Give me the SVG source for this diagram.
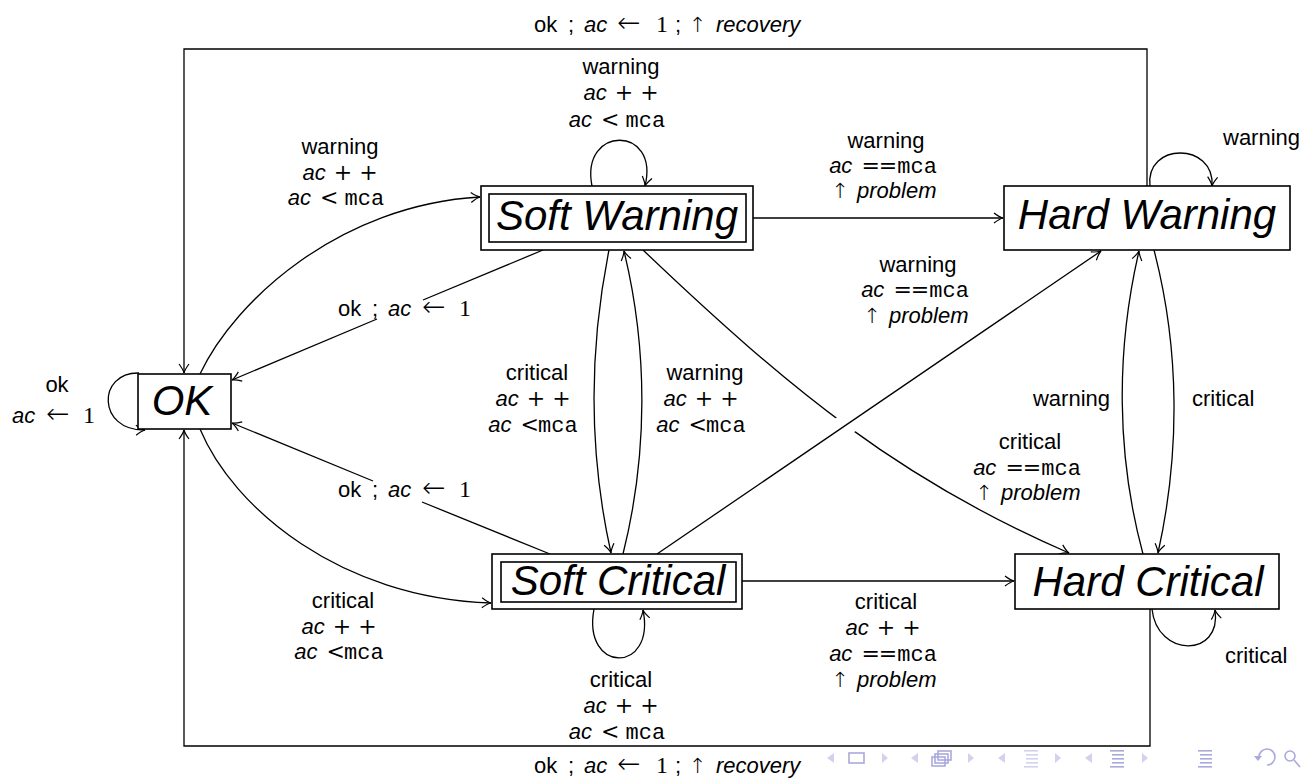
<svg xmlns="http://www.w3.org/2000/svg" width="1306" height="779" viewBox="0 0 1306 779">
<style>
.t{font-family:"Liberation Sans",Arial,sans-serif;font-size:22px;fill:#000}
.i{font-style:italic}
.m{font-family:"Liberation Mono","Courier New",monospace;font-size:22px}
.o{font-family:"DejaVu Serif","Liberation Serif",serif;font-size:22px}
.a{font-family:"Liberation Serif","DejaVu Serif",serif;font-size:24px}
.ar{font-family:"DejaVu Sans",sans-serif;font-size:28px;font-weight:200}
.up{font-family:"DejaVu Sans",sans-serif;font-size:21px;font-weight:200}
.n{font-family:"Liberation Sans",Arial,sans-serif;font-size:42px;font-style:italic;fill:#000}
.box{fill:#fff;stroke:#000;stroke-width:1.6}
.e{fill:none;stroke:#000;stroke-width:1.3}
.ea{fill:none;stroke:#000;stroke-width:1.3;marker-end:url(#arr)}
.nav{fill:#a9a9dc;stroke:none}
.navl{fill:#d2d2ef;stroke:none}
.navs{fill:none;stroke:#a9a9dc;stroke-width:1.6}
</style>
<defs>
<marker id="arr" viewBox="-10 -6 12 12" refX="0" refY="0" markerWidth="12" markerHeight="12" markerUnits="userSpaceOnUse" orient="auto" overflow="visible">
<path d="M -9 -5 C -5 -2, -2 -0.5, 0 0 C -2 0.5, -5 2, -9 5" fill="none" stroke="#000" stroke-width="1.2"/>
</marker>
</defs>
<rect width="1306" height="779" fill="#fff"/>

<g id="connectors">
<!-- Hard Warning -> OK (recovery, top) -->
<path class="ea" d="M 1147 186 V 49 H 184 V 373"/>
<!-- Hard Critical -> OK (recovery, bottom) -->
<path class="ea" d="M 1150 609 V 746 H 184 V 430"/>
<!-- OK -> Soft Warning -->
<path class="ea" d="M 200 374 C 235 300, 340 205, 480 197"/>
<!-- OK -> Soft Critical -->
<path class="ea" d="M 200 429 C 233 508, 340 598, 491 603"/>
<!-- Soft Warning -> OK -->
<path class="e" d="M 543 250 L 423 300"/>
<path class="ea" d="M 377 319 L 232 380"/>
<!-- Soft Critical -> OK -->
<path class="e" d="M 550 554 L 422 502"/>
<path class="ea" d="M 373 481 L 232 423"/>
<!-- OK self loop -->
<path class="ea" d="M 139 373 C 97 372, 97 431, 145 430"/>
<!-- Soft Warning self loop -->
<path class="ea" d="M 592 186 C 580 125, 660 125, 645 186"/>
<!-- Soft Critical self loop -->
<path class="ea" d="M 594 609 C 582 674, 656 674, 643 610"/>
<!-- Hard Warning self loop -->
<path class="ea" d="M 1150 186 C 1145 142, 1215 142, 1212 186"/>
<!-- Hard Critical self loop -->
<path class="ea" d="M 1152 609 C 1157 658, 1222 658, 1215 610"/>
<!-- Soft Warning -> Hard Warning -->
<path class="ea" d="M 753 218 L 1003 218"/>
<!-- Soft Critical -> Hard Critical -->
<path class="ea" d="M 742 581 L 1014 581"/>
<!-- Soft Warning -> Soft Critical -->
<path class="ea" d="M 609 250 C 589 350, 589 454, 611 553"/>
<!-- Soft Critical -> Soft Warning -->
<path class="ea" d="M 623 554 C 648 454, 648 350, 624 251"/>
<!-- Soft Warning -> Hard Critical -->
<path class="ea" d="M 643 250 C 790 390, 900 480, 1069 553"/>
<!-- crossing gap -->
<path d="M 828 437 L 858 416" stroke="#fff" stroke-width="22" fill="none"/>
<!-- Soft Critical -> Hard Warning -->
<path class="ea" d="M 657 554 L 1101 251"/>
<!-- Hard Critical -> Hard Warning -->
<path class="ea" d="M 1143 554 C 1116 454, 1116 350, 1139 251"/>
<!-- Hard Warning -> Hard Critical -->
<path class="ea" d="M 1154 250 C 1180 350, 1180 454, 1158 553"/>
</g>

<g id="node-ok">
<rect class="box" x="138" y="374" width="93" height="55"/>
<text class="n" x="182" y="415" text-anchor="middle">OK</text>
</g>
<g id="node-soft-warning">
<rect class="box" x="481" y="186" width="272" height="64"/>
<rect class="box" x="489" y="194" width="257" height="48"/>
<text class="n" x="617" y="230" text-anchor="middle">Soft Warning</text>
</g>
<g id="node-hard-warning">
<rect class="box" x="1004" y="186" width="286" height="64"/>
<text class="n" x="1147" y="229" text-anchor="middle">Hard Warning</text>
</g>
<g id="node-soft-critical">
<rect class="box" x="492" y="554" width="250" height="55"/>
<rect class="box" x="501" y="562" width="235" height="40"/>
<text class="n" x="618" y="595" text-anchor="middle">Soft Critical</text>
</g>
<g id="node-hard-critical">
<rect class="box" x="1015" y="554" width="264" height="55"/>
<text class="n" x="1148" y="596" text-anchor="middle">Hard Critical</text>
</g>

<g id="edge-labels">
<!-- top recovery -->
<text class="t" y="32"><tspan x="534">ok</tspan><tspan x="568">;</tspan><tspan x="584" class="i">ac</tspan><tspan x="617" class="ar">←</tspan><tspan x="656" class="a">1</tspan><tspan x="675">;</tspan><tspan x="689" class="up">↑</tspan><tspan x="716" class="i">recovery</tspan></text>
<!-- bottom recovery -->
<text class="t" y="773"><tspan x="534">ok</tspan><tspan x="568">;</tspan><tspan x="584" class="i">ac</tspan><tspan x="617" class="ar">←</tspan><tspan x="656" class="a">1</tspan><tspan x="675">;</tspan><tspan x="689" class="up">↑</tspan><tspan x="716" class="i">recovery</tspan></text>

<!-- Soft Warning loop -->
<text class="t" x="621" y="74" text-anchor="middle">warning</text>
<text class="t" x="621" y="100" text-anchor="middle"><tspan class="i">ac</tspan><tspan class="o" dx="8">+</tspan><tspan class="o" dx="7">+</tspan></text>
<text class="t" x="617" y="127" text-anchor="middle"><tspan class="i">ac</tspan><tspan class="o" dx="9">&lt;</tspan><tspan class="m" dx="6">mca</tspan></text>

<!-- OK -> Soft Warning -->
<text class="t" x="340" y="154" text-anchor="middle">warning</text>
<text class="t" x="340" y="180" text-anchor="middle"><tspan class="i">ac</tspan><tspan class="o" dx="8">+</tspan><tspan class="o" dx="7">+</tspan></text>
<text class="t" x="336" y="205" text-anchor="middle"><tspan class="i">ac</tspan><tspan class="o" dx="9">&lt;</tspan><tspan class="m" dx="6">mca</tspan></text>

<!-- Soft Warning -> Hard Warning -->
<text class="t" x="886" y="148" text-anchor="middle">warning</text>
<text class="t" x="883" y="173" text-anchor="middle"><tspan class="i">ac</tspan><tspan class="o" dx="9">=</tspan><tspan class="o" dx="-1">=</tspan><tspan class="m">mca</tspan></text>
<text class="t" x="884" y="198" text-anchor="middle"><tspan class="up">↑</tspan><tspan class="i" dx="8">problem</tspan></text>

<!-- Hard Warning loop -->
<text class="t" x="1223" y="145">warning</text>

<!-- Soft Critical -> Hard Warning -->
<text class="t" x="918" y="272" text-anchor="middle">warning</text>
<text class="t" x="915" y="297" text-anchor="middle"><tspan class="i">ac</tspan><tspan class="o" dx="9">=</tspan><tspan class="o" dx="-1">=</tspan><tspan class="m">mca</tspan></text>
<text class="t" x="916" y="323" text-anchor="middle"><tspan class="up">↑</tspan><tspan class="i" dx="8">problem</tspan></text>

<!-- Soft Warning -> OK -->
<text class="t" y="316"><tspan x="338">ok</tspan><tspan x="372">;</tspan><tspan x="388" class="i">ac</tspan><tspan x="422" class="ar">←</tspan><tspan x="459" class="a">1</tspan></text>

<!-- OK loop -->
<text class="t" x="57" y="392" text-anchor="middle">ok</text>
<text class="t" y="423"><tspan x="12" class="i">ac</tspan><tspan x="46" class="ar">←</tspan><tspan x="83" class="a">1</tspan></text>

<!-- Soft Warning -> Soft Critical -->
<text class="t" x="537" y="380" text-anchor="middle">critical</text>
<text class="t" x="533" y="406" text-anchor="middle"><tspan class="i">ac</tspan><tspan class="o" dx="8">+</tspan><tspan class="o" dx="7">+</tspan></text>
<text class="t" x="533" y="432" text-anchor="middle"><tspan class="i">ac</tspan><tspan class="o" dx="9">&lt;</tspan><tspan class="m" dx="-1">mca</tspan></text>

<!-- Soft Critical -> Soft Warning -->
<text class="t" x="705" y="380" text-anchor="middle">warning</text>
<text class="t" x="701" y="406" text-anchor="middle"><tspan class="i">ac</tspan><tspan class="o" dx="8">+</tspan><tspan class="o" dx="7">+</tspan></text>
<text class="t" x="701" y="432" text-anchor="middle"><tspan class="i">ac</tspan><tspan class="o" dx="9">&lt;</tspan><tspan class="m" dx="-1">mca</tspan></text>

<!-- Hard Critical -> Hard Warning -->
<text class="t" x="1110" y="406" text-anchor="end">warning</text>
<!-- Hard Warning -> Hard Critical -->
<text class="t" x="1192" y="406">critical</text>

<!-- Soft Warning -> Hard Critical -->
<text class="t" x="1030" y="449" text-anchor="middle">critical</text>
<text class="t" x="1027" y="475" text-anchor="middle"><tspan class="i">ac</tspan><tspan class="o" dx="9">=</tspan><tspan class="o" dx="-1">=</tspan><tspan class="m">mca</tspan></text>
<text class="t" x="1028" y="500" text-anchor="middle"><tspan class="up">↑</tspan><tspan class="i" dx="8">problem</tspan></text>

<!-- Soft Critical -> OK -->
<text class="t" y="497"><tspan x="338">ok</tspan><tspan x="372">;</tspan><tspan x="388" class="i">ac</tspan><tspan x="422" class="ar">←</tspan><tspan x="459" class="a">1</tspan></text>

<!-- OK -> Soft Critical -->
<text class="t" x="343" y="608" text-anchor="middle">critical</text>
<text class="t" x="339" y="634" text-anchor="middle"><tspan class="i">ac</tspan><tspan class="o" dx="8">+</tspan><tspan class="o" dx="7">+</tspan></text>
<text class="t" x="339" y="659" text-anchor="middle"><tspan class="i">ac</tspan><tspan class="o" dx="9">&lt;</tspan><tspan class="m" dx="-1">mca</tspan></text>

<!-- Soft Critical -> Hard Critical -->
<text class="t" x="886" y="609" text-anchor="middle">critical</text>
<text class="t" x="883" y="635" text-anchor="middle"><tspan class="i">ac</tspan><tspan class="o" dx="8">+</tspan><tspan class="o" dx="7">+</tspan></text>
<text class="t" x="883" y="661" text-anchor="middle"><tspan class="i">ac</tspan><tspan class="o" dx="9">=</tspan><tspan class="o" dx="-1">=</tspan><tspan class="m">mca</tspan></text>
<text class="t" x="884" y="687" text-anchor="middle"><tspan class="up">↑</tspan><tspan class="i" dx="8">problem</tspan></text>

<!-- Soft Critical loop -->
<text class="t" x="621" y="687" text-anchor="middle">critical</text>
<text class="t" x="621" y="713" text-anchor="middle"><tspan class="i">ac</tspan><tspan class="o" dx="8">+</tspan><tspan class="o" dx="7">+</tspan></text>
<text class="t" x="617" y="739" text-anchor="middle"><tspan class="i">ac</tspan><tspan class="o" dx="9">&lt;</tspan><tspan class="m" dx="6">mca</tspan></text>

<!-- Hard Critical loop -->
<text class="t" x="1225" y="663">critical</text>
</g>

<g id="navigation">
<path class="navl" d="M 834 753 L 827 758 L 834 763 Z"/>
<rect class="navs" x="849" y="753" width="15" height="10"/>
<path class="navl" d="M 882 753 L 888 758 L 882 763 Z"/>
<path class="navl" d="M 918 753 L 911 758 L 918 763 Z"/>
<rect class="navs" x="938" y="751" width="13" height="9"/>
<rect class="navs" x="935" y="754" width="13" height="9" fill="#fff"/>
<rect class="navs" x="932" y="757" width="13" height="9" fill="#fff"/>
<path class="navl" d="M 968 753 L 974 758 L 968 763 Z"/>
<path class="navl" d="M 1005 753 L 998 758 L 1005 763 Z"/>
<g class="navl"><rect x="1024" y="750" width="14" height="1.6"/><rect x="1026" y="754" width="12" height="1.6"/><rect x="1026" y="758" width="12" height="1.6"/><rect x="1026" y="762" width="12" height="1.6"/><rect x="1024" y="766" width="14" height="1.6"/></g>
<path class="navl" d="M 1055 753 L 1061 758 L 1055 763 Z"/>
<path class="navl" d="M 1092 753 L 1085 758 L 1092 763 Z"/>
<g class="nav"><rect x="1110" y="750" width="14" height="1.6"/><rect x="1112" y="754" width="12" height="1.6"/><rect x="1112" y="758" width="12" height="1.6"/><rect x="1112" y="762" width="12" height="1.6"/><rect x="1110" y="766" width="14" height="1.6"/></g>
<path class="navl" d="M 1142 753 L 1148 758 L 1142 763 Z"/>
<g class="nav"><rect x="1198" y="750" width="14" height="1.6"/><rect x="1200" y="754" width="12" height="1.6"/><rect x="1200" y="758" width="12" height="1.6"/><rect x="1200" y="762" width="12" height="1.6"/><rect x="1198" y="766" width="14" height="1.6"/></g>
<path class="navs" d="M 1259 757 A 8 8 0 1 1 1267 765"/>
<path class="nav" d="M 1254 756 L 1262 756 L 1258 761 Z"/>
<circle class="navs" cx="1290" cy="756" r="5"/>
<path class="navs" d="M 1294 760 L 1300 767" stroke-width="2.2"/>
</g>
</svg>
